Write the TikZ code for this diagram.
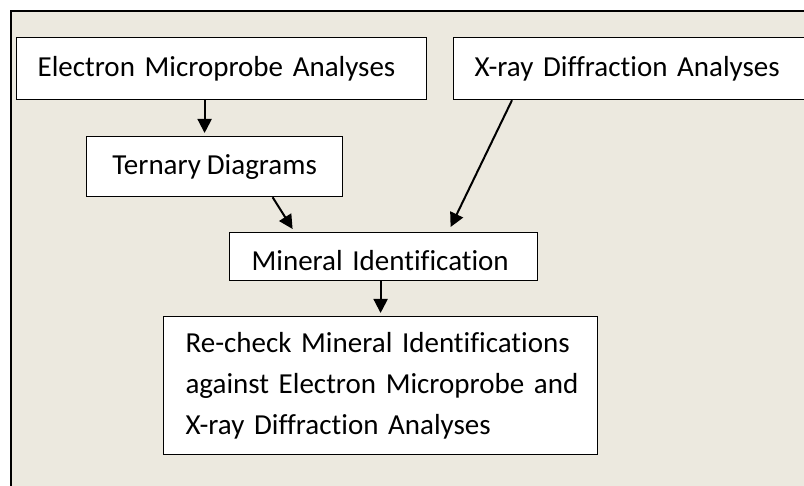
\documentclass[tikz,border=0pt]{standalone}
\usepackage{fontspec}
\setmainfont{Carlito}[Ligatures=CommonOff, WordSpace=0.9]
\usetikzlibrary{arrows.meta}
\definecolor{panel}{RGB}{236,233,223}

\begin{document}
\begin{tikzpicture}[x=1pt,y=-1pt]
		\tikzstyle{every node}+=[inner sep=0pt]
		\tikzstyle{box}=[draw=black, fill=white, line width=1.2pt, font=\fontsize{29}{41}\selectfont]
		\tikzstyle{single}=[text height=20pt, text depth=5pt]
		\tikzstyle{flow}=[line width=2pt, -{Triangle[length=14pt,width=14pt]}]
		\clip (0,0) rectangle (804,486);
		\draw [fill=panel, line width=1.2pt] (11,11) rectangle (830,510);
		\node [box, single, anchor=north west, minimum width=410pt, minimum height=62pt, text width=368pt, inner xsep=21pt, align=left] (electron) at (16,37) {Electron Microprobe Analyses};
		\node [box, single, anchor=north west, minimum width=380pt, minimum height=62pt, text width=338pt, inner xsep=21pt, align=left] (xray) at (453,37) {X-ray Diffraction Analyses};
		\node [box, single, anchor=north west, minimum width=256pt, minimum height=60pt, align=center] (ternary) at (86,136) {Ternary Diagrams};
		\node [box, anchor=north west, minimum width=308pt, text width=264pt, inner xsep=22pt, inner ysep=10pt, text height=28pt, text depth=0pt, align=left] (mineral) at (229,232) {Mineral Identification};
		\fill [white] ([xshift=1pt,yshift=1pt]mineral.south west) rectangle ([xshift=-1pt,yshift=10.5pt]mineral.south east);
		\node [box, anchor=north west, minimum width=434pt, minimum height=138pt, text width=390pt, inner xsep=22pt, align=left] (recheck) at (163,316) {\mbox{Re-check Mineral Identifications}\\\mbox{against Electron Microprobe and}\\\mbox{X-ray Diffraction Analyses}};
		\draw [flow] ([xshift=-17pt]electron.south) -- ([xshift=-10pt,yshift=3pt]ternary.north);
		\draw [flow] ([xshift=58pt]ternary.south) -- ([xshift=-91pt,yshift=3pt]mineral.north);
		\draw [flow] ([xshift=59pt]xray.south west) -- ([xshift=67pt,yshift=5pt]mineral.north);
		\draw [flow] ([xshift=-3pt]mineral.south) -- ([yshift=3pt]recheck.north);
	\end{tikzpicture}
\end{document}
